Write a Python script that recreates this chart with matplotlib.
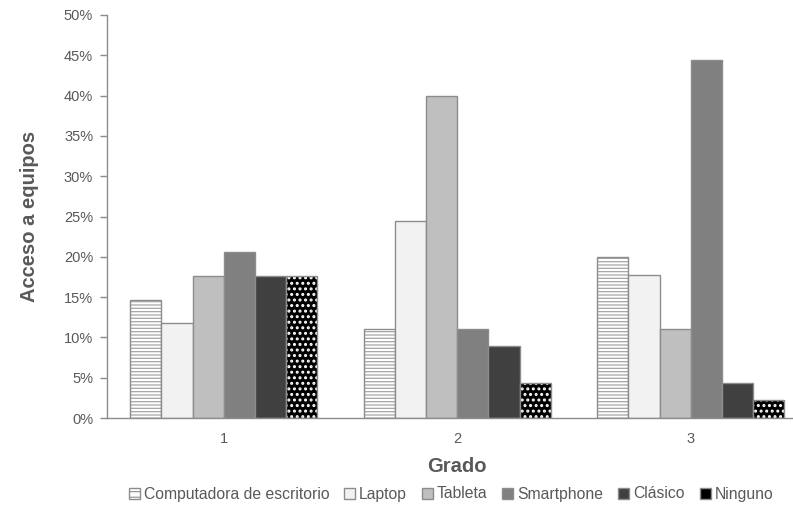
import matplotlib.pyplot as plt
import numpy as np
from matplotlib.patches import Patch
from matplotlib.ticker import PercentFormatter

# Data (share of students per grade)
grados = ["1", "2", "3"]
series = ["Computadora de escritorio", "Laptop", "Tableta", "Smartphone", "Clásico", "Ninguno"]
computadora = [14.7, 11.1, 20.0]
laptop = [11.8, 24.4, 17.8]
tableta = [17.6, 40.0, 11.1]
smartphone = [20.6, 11.1, 44.4]
clasico = [17.6, 8.9, 4.4]
ninguno = [17.6, 4.4, 2.2]

values = [computadora, laptop, tableta, smartphone, clasico, ninguno]

# face colour, hatch, hatch colour
styles = [
  ("white", "-----", "#a6a6a6"),
  ("#f2f2f2", None, None),
  ("#bfbfbf", None, None),
  ("#808080", None, None),
  ("#404040", None, None),
  ("black", "...", "white"),
]
edge = "#8c8c8c"
text_grey = "#595959"

plt.rcParams['font.family'] = ['Liberation Sans', 'DejaVu Sans']

fig = plt.figure(figsize=(7.93, 5.15), dpi=100)
# plot area runs past the right edge, like the cropped original
ax = fig.add_axes([107/793, 97/515, 700.5/793, 403/515])

x = np.arange(len(grados))
w = 1 / 7.5
for i, vals in enumerate(values):
  face, hatch, hcol = styles[i]
  pos = x + (i - 2.5) * w
  if hatch:
    # dots need a thicker hatch line to look like the original
    plt.rcParams['hatch.linewidth'] = 1.4 if hatch == "..." else 0.9
    ax.bar(pos, vals, w, color=face, edgecolor=hcol, hatch=hatch, linewidth=0)
    ax.bar(pos, vals, w, fill=False, edgecolor=edge, linewidth=1.0)
  else:
    ax.bar(pos, vals, w, color=face, edgecolor=edge, linewidth=1.0)

ax.set_xlim(-0.5, 2.5)
ax.set_ylim(0, 50)
ax.set_yticks(np.arange(0, 51, 5))
ax.yaxis.set_major_formatter(PercentFormatter(decimals=0))
ax.set_xticks(x)
ax.set_xticklabels(grados)

for s in ["top", "right"]:
  ax.spines[s].set_visible(False)
for s in ["left", "bottom"]:
  ax.spines[s].set_color(edge)
  ax.spines[s].set_linewidth(1.0)

ax.tick_params(axis='y', colors=edge, labelcolor=text_grey, labelsize=10.5, length=5, width=1, pad=5)
ax.tick_params(axis='x', length=0, labelcolor=text_grey, labelsize=10.5, pad=10)

ax.set_xlabel("Grado", fontsize=14.5, fontweight='bold', color=text_grey)
ax.set_ylabel("Acceso a equipos", fontsize=14.5, fontweight='bold', color=text_grey)
ax.xaxis.set_label_coords(0.5, -0.097)
ax.yaxis.set_label_coords(-0.097, 0.5)

# legend
plt.rcParams['hatch.linewidth'] = 0.8
handles = []
for i, name in enumerate(series):
  face, hatch, hcol = styles[i]
  if hatch == "-----":
    handles.append(Patch(facecolor=face, edgecolor=edge, hatch="---", label=name))
  else:
    handles.append(Patch(facecolor=face, edgecolor=edge, label=name))

fig.legend(handles=handles, loc='center', bbox_to_anchor=(451/793, 1 - 494/515), ncol=6,
           frameon=False, fontsize=11.3, handlelength=0.7, handleheight=0.7,
           handletextpad=0.25, columnspacing=0.95, labelcolor=text_grey)

fig.savefig("out.png", dpi=100)
